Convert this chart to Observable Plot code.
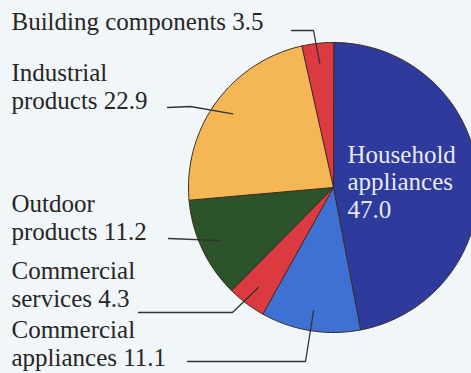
<!DOCTYPE html>
<html>
<head>
<meta charset="utf-8">
<script src="https://cdn.jsdelivr.net/npm/d3@7"></script>
<script src="https://cdn.jsdelivr.net/npm/@observablehq/plot@0.6"></script>
<style>
  html, body { margin: 0; padding: 0; background: #F1F6F8; overflow: hidden; }
  #chart svg { display: block; }
</style>
</head>
<body>
<div id="chart"></div>
<script>
// ---- Data ----
const categories = ["Household appliances", "Commercial appliances", "Commercial services", "Outdoor products", "Industrial products", "Building components"];
const values = [47.0, 11.1, 4.3, 11.2, 22.9, 3.5];
const labelLines = [["Household", "appliances"], ["Commercial", "appliances"], ["Commercial", "services"], ["Outdoor", "products"], ["Industrial", "products"], ["Building components"]];
const sliceColors = ["#2F3B9C", "#3F70D4", "#DB3B40", "#2C5329", "#F5B755", "#DB3B40"];

// ---- Layout ----
const W = 471, H = 373;
const cx = 333, cy = 187, R = 145;
const total = d3.sum(values);
const serif = "'Liberation Serif', 'DejaVu Serif', serif";
// label anchor (x, baseline of last line) and leader path start/elbow
const labelPos = [
  {x: 347, y: 217, leader: null},
  {x: 11, y: 365, leader: [[187, 361], [305, 361]]},
  {x: 11, y: 306, leader: [[138, 312], [232, 312]]},
  {x: 11, y: 239, leader: [[168, 238]]},
  {x: 11, y: 108, leader: [[167, 107], [190, 106]]},
  {x: 11, y: 29, leader: [[291, 30], [313, 30]]}
];

// ---- Derived geometry from values ----
const pt = (a, r) => ({x: cx + r * Math.sin(a), y: cy - r * Math.cos(a)});
const slices = [];
const mids = [];
let acc = 0;
values.forEach((v, i) => {
  const a0 = acc / total * 2 * Math.PI;
  acc += v;
  const a1 = acc / total * 2 * Math.PI;
  mids.push((a0 + a1) / 2);
  slices.push({cat: categories[i], x: cx, y: cy});
  const n = Math.max(2, Math.ceil((a1 - a0) * 180 / Math.PI));
  for (let k = 0; k <= n; k++) {
    const p = pt(a0 + (a1 - a0) * k / n, R);
    slices.push({cat: categories[i], x: p.x, y: p.y});
  }
});

const leaders = [];
labelPos.forEach((lp, i) => {
  if (!lp.leader) return;
  lp.leader.forEach(([x, y]) => leaders.push({id: i, x, y}));
  const e = pt(mids[i], R * 0.86);
  leaders.push({id: i, x: e.x, y: e.y});
});

const labels = categories.map((c, i) => ({
  text: labelLines[i].join("\n") + (i === 0 ? "\n" : " ") + values[i].toFixed(1),
  x: labelPos[i].x,
  y: labelPos[i].y,
  inside: i === 0
}));

const chart = Plot.plot({
  width: W,
  height: H,
  margin: 0,
  style: {background: "#F1F6F8"},
  x: {domain: [0, W], range: [0, W], axis: null},
  y: {domain: [0, H], range: [0, H], axis: null},
  color: {domain: categories, range: sliceColors},
  marks: [
    Plot.line(slices, {x: "x", y: "y", z: "cat", fill: "cat", stroke: "#3a2a22", strokeWidth: 1, curve: "linear-closed", clip: true}),
    Plot.line(leaders, {x: "x", y: "y", z: "id", stroke: "#333333", strokeWidth: 1.3}),
    Plot.text(labels.filter(d => !d.inside), {x: "x", y: "y", text: "text", textAnchor: "start", lineAnchor: "bottom", lineHeight: 1.1, fontSize: 25, fill: "#262626"}),
    Plot.text(labels.filter(d => d.inside), {x: "x", y: "y", text: "text", textAnchor: "start", lineAnchor: "bottom", lineHeight: 1.1, fontSize: 25, fill: "#E6EAF4"})
  ]
});
chart.style.fontFamily = serif;
chart.querySelectorAll("g, text, tspan").forEach(el => {
  el.removeAttribute("font-family");
  el.style.fontFamily = serif;
});
document.getElementById("chart").appendChild(chart);
</script>
</body>
</html>
